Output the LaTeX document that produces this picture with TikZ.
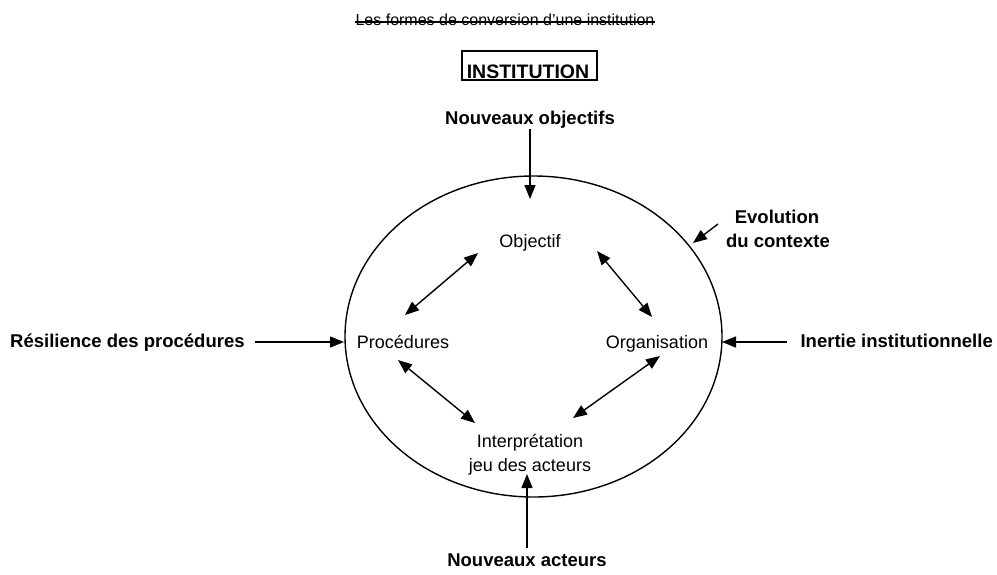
\documentclass[tikz,border=0pt]{standalone}
\usepackage{fontspec}
\setmainfont{Liberation Sans}
\usetikzlibrary{arrows.meta,shapes.geometric}
\begin{document}
\begin{tikzpicture}[x=1pt,y=-1pt,
  lbl/.style={inner sep=0pt,font=\fontsize{18}{20}\selectfont,anchor=base},
  blbl/.style={inner sep=0pt,font=\fontsize{18.5}{22}\selectfont\bfseries,anchor=base},
  arr/.style={line width=1.4pt,-{Triangle[length=14pt,width=11pt]}},
  darr/.style={line width=1.4pt,{Triangle[length=14pt,width=11pt]}-{Triangle[length=14pt,width=11pt]}}]
\useasboundingbox (0,0) rectangle (997,574);
% title
\node[inner sep=0pt,anchor=base,font=\fontsize{16}{18}\selectfont] (title) at (505,25) {Les formes de conversion d'une institution};
\draw[line width=1.6pt] ([yshift=3pt]title.base west) -- ([yshift=3pt]title.base east);
% institution box
\node[draw,line width=1.6pt,minimum width=135pt,minimum height=29pt,inner sep=0pt] (inst) at (529.5,65.5) {};
\node[blbl,font=\fontsize{19.5}{22}\selectfont\bfseries] (insttxt) at (528,78) {INSTITUTION};
% ellipse
\node[draw,ellipse,line width=1.4pt,minimum width=377pt,minimum height=321pt,inner sep=0pt] (ell) at (533.5,336.5) {};
% inner labels
\node[lbl] (obj) at (530,247) {Objectif};
\node[lbl] (proc) at (403,348) {Procédures};
\node[lbl] (org) at (657,348) {Organisation};
\node[lbl] (interp) at (530,447) {Interprétation};
\node[lbl] (jeu) at (530,471) {jeu des acteurs};
% outer labels
\node[blbl] (nobj) at (530,124) {Nouveaux objectifs};
\node[blbl] (evo) at (777,223) {Evolution};
\node[blbl] (ctx) at (778,247) {du contexte};
\node[blbl,anchor=base west] (res) at (10,347) {Résilience des procédures};
\node[blbl,anchor=base east] (inert) at (993,347) {Inertie institutionnelle};
\node[blbl] (nact) at (527,566) {Nouveaux acteurs};
% coordinates
\coordinate (o1) at (478,253); \coordinate (p1) at (405,315);
\coordinate (o2) at (597,251); \coordinate (g1) at (652,317);
\coordinate (p2) at (398,360); \coordinate (i1) at (475,423);
\coordinate (g2) at (660,356); \coordinate (i2) at (573,418);
\coordinate (ttop) at (530,199); \coordinate (fobj) at (530,129);
\coordinate (tbot) at (527,474); \coordinate (fact) at (527,548);
\coordinate (tleft) at (344,342); \coordinate (fres) at (255,342);
\coordinate (tright) at (722,342); \coordinate (fin) at (787,342);
\coordinate (tevo) at (693,243); \coordinate (fevo) at (718,224);
% arrows
\draw[darr] (o1) -- (p1);
\draw[darr] (o2) -- (g1);
\draw[darr] (p2) -- (i1);
\draw[darr] (g2) -- (i2);
\draw[arr] (fobj) -- (ttop);
\draw[arr] (fact) -- (tbot);
\draw[arr] (fres) -- (tleft);
\draw[arr] (fin) -- (tright);
\draw[arr] (fevo) -- (tevo);
\end{tikzpicture}
\end{document}
